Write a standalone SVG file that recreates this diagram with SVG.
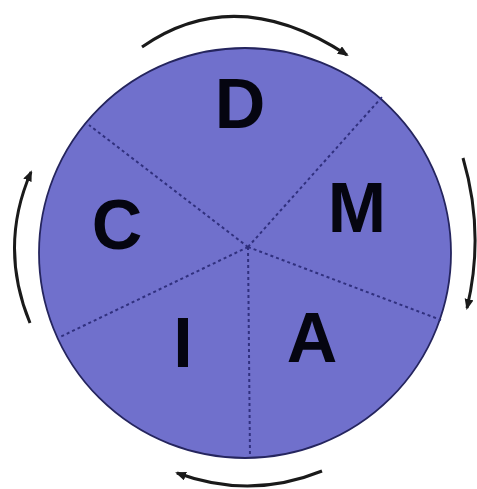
<svg xmlns="http://www.w3.org/2000/svg" width="477" height="489" viewBox="0 0 477 489">
  <style>
    .lbl { font-family: "Liberation Sans", Arial, sans-serif; font-weight: bold; font-size: 70px; fill: #050510; text-anchor: middle; }
    .div { stroke: #30307e; stroke-width: 2; stroke-dasharray: 3 3; fill: none; }
    .cyc { stroke: #1a1a1a; stroke-width: 3; fill: none; marker-end: url(#ah); }
  </style>
  <defs>
    <marker id="ah" markerUnits="userSpaceOnUse" markerWidth="12" markerHeight="10" refX="9" refY="4.5" orient="auto" viewBox="0 0 12 10">
      <path d="M0,0 L11,4.5 L0,9 z" fill="#1a1a1a"/>
    </marker>
  </defs>
  <rect width="477" height="489" fill="#ffffff"/>
  <g id="wheel">
    <ellipse cx="245" cy="253" rx="206" ry="205" fill="#7070cc" stroke="#25255e" stroke-width="1.8"/>
  </g>
  <g id="dividers">
    <line class="div" x1="248" y1="247" x2="89" y2="125"/>
    <line class="div" x1="248" y1="247" x2="382" y2="97"/>
    <line class="div" x1="248" y1="247" x2="441" y2="320"/>
    <line class="div" x1="248" y1="247" x2="250" y2="457"/>
    <line class="div" x1="248" y1="247" x2="60" y2="337"/>
  </g>
  <g id="node-D"><text class="lbl" x="240" y="128">D</text></g>
  <g id="node-M"><text class="lbl" x="357" y="232">M</text></g>
  <g id="node-A"><text class="lbl" x="312" y="362">A</text></g>
  <g id="node-I"><text class="lbl" x="183" y="367">I</text></g>
  <g id="node-C"><text class="lbl" x="117" y="249">C</text></g>
  <g id="connectors">
    <path class="cyc" d="M142,47 Q235.5,-18 347,55"/>
    <path class="cyc" d="M463,158 Q485,233 467,308"/>
    <path class="cyc" d="M322,471 Q250.5,500 177,473"/>
    <path class="cyc" d="M30,323 Q-1.5,246.5 31,172"/>
  </g>
</svg>
